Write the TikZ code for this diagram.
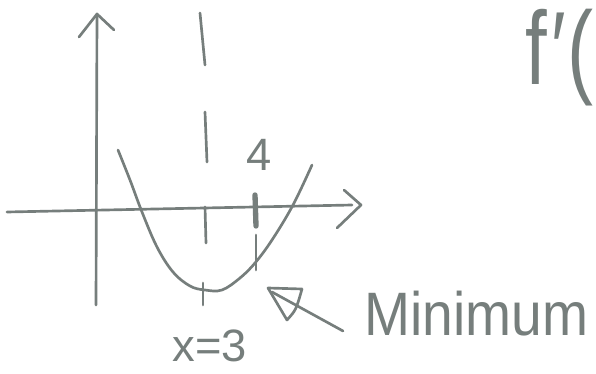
\documentclass[tikz,border=0pt]{standalone}
\usepackage{fontspec}
\setmainfont{Liberation Sans}
\begin{document}
\begin{tikzpicture}[x=0.75pt,y=-0.75pt,
  pencil/.style={draw=pen,line width=2pt,line cap=round,line join=round},
  thick pencil/.style={draw=pen,line width=4pt,line cap=round},
  hand/.style={text=pen,inner sep=0pt}]
\definecolor{pen}{RGB}{118,126,124}
\useasboundingbox (0,0) rectangle (596,374);
% y axis
\coordinate (ybot) at (96,305);
\coordinate (ytop) at (97,14);
\coordinate (yl) at (79,37);
\coordinate (yr) at (114,30);
\draw[pencil] (ybot) -- (ytop);
\draw[pencil] (yl) -- (ytop) -- (yr);
% x axis
\coordinate (xl) at (7,212);
\coordinate (xr) at (352,205);
\coordinate (xtip) at (361,205);
\coordinate (xa1) at (344,190);
\coordinate (xa2) at (337,228);
\draw[pencil] (xl) -- (xr);
\draw[pencil] (xa1) -- (xtip) -- (xa2);
% dashed vertical at x=3
\coordinate (d1a) at (200,13); \coordinate (d1b) at (205,65);
\coordinate (d2a) at (205,112); \coordinate (d2b) at (207,162);
\coordinate (d3a) at (205,207); \coordinate (d3b) at (206,243);
\coordinate (d4a) at (203,283); \coordinate (d4b) at (203,305);
\draw[pencil] (d1a) -- (d1b);
\draw[pencil] (d2a) -- (d2b);
\draw[pencil] (d3a) -- (d3b);
\draw[pencil] (d4a) -- (d4b);
% tick at 4
\coordinate (t4a) at (255,195); \coordinate (t4b) at (256,226);
\coordinate (t4c) at (256,235); \coordinate (t4d) at (256,270);
\draw[thick pencil] (t4a) -- (t4b);
\draw[pencil] (t4c) -- (t4d);
\node[hand,font=\fontsize{34}{34}\selectfont] (four) at (259,155) {4};
% parabola
\draw[pencil] plot[smooth,tension=0.6] coordinates {(118,150) (130,180) (142,212) (157,247) (173,272) (190,286) (205,290) (222,290) (240,278) (255,263) (272,240) (293,205) (312,165)};
% arrow to minimum
\coordinate (mtail) at (343,331);
\coordinate (mtip) at (272,292);
\coordinate (h1) at (268,288); \coordinate (h2) at (302,289); \coordinate (h3) at (287,320);
\draw[pencil] (mtail) -- (mtip);
\draw[pencil] (h2) -- (h1) -- (h3) .. controls (296,310) .. (h2);
\node[hand,font=\fontsize{46}{46}\selectfont,anchor=west] (minimum) at (364,314) {\scalebox{0.9}[1]{Minimum}};
% x = 3
\node[hand,font=\fontsize{34}{34}\selectfont] (x3) at (210,346) {x=3};
% f'(
\node[hand,font=\fontsize{78}{78}\selectfont,anchor=east] (fp) at (594,58) {\scalebox{0.75}[1]{f\kern4pt′\kern2pt(}};
\end{tikzpicture}
\end{document}
